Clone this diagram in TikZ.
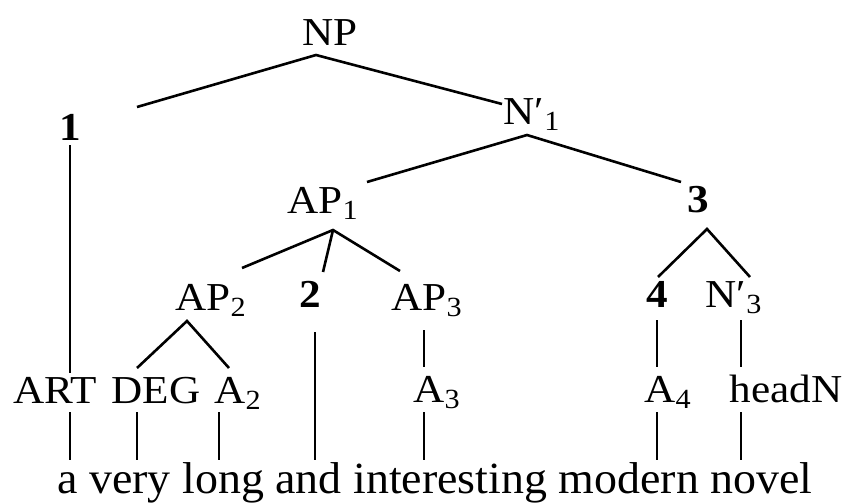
\documentclass[tikz,border=0pt]{standalone}
\usepackage{fontspec}
\setmainfont{Liberation Serif}[FakeStretch=1.03]
\newfontfamily\lblfont{Liberation Serif}[FakeStretch=1.09]

\begin{document}
\begin{tikzpicture}[x=0.5pt,y=-0.5pt,
	lbl/.style={inner sep=0pt,anchor=base,font=\lblfont\fontsize{19.8}{22}\selectfont},
	wd/.style={inner sep=0pt,anchor=base,font=\fontsize{22.3}{26}\selectfont},
	br/.style={line width=1.3pt}]
	\useasboundingbox (0,0) rectangle (849,503);
	% labels of the tree
	\node[lbl] (NP) at (330,45) {NP};
	\node[lbl] (one) at (70,140) {\textbf{1}};
	\node[lbl] (N1) at (532,124) {N′\textsubscript{1}};
	\node[lbl] (AP1) at (323,213) {AP\textsubscript{1}};
	\node[lbl] (three) at (698,212) {\textbf{3}};
	\node[lbl] (AP2) at (211,310) {AP\textsubscript{2}};
	\node[lbl] (two) at (310,307) {\textbf{2}};
	\node[lbl] (AP3) at (427,310) {AP\textsubscript{3}};
	\node[lbl] (four) at (657,307) {\textbf{4}};
	\node[lbl] (N3) at (734,307) {N′\textsubscript{3}};
	\node[lbl] (ART) at (55,403) {ART};
	\node[lbl] (DEG) at (156,403) {DEG};
	\node[lbl] (A2) at (238,403) {A\textsubscript{2}};
	\node[lbl] (A3) at (437,402) {A\textsubscript{3}};
	\node[lbl] (A4) at (668,402) {A\textsubscript{4}};
	\node[lbl] (headN) at (786,402) {headN};
	\node[wd] (sent) at (435,493) {a very long and interesting modern novel};
	% ends of the branches
	\coordinate (np-f) at (316,55);
	\coordinate (np-l) at (137,107);
	\coordinate (np-r) at (502,104);
	\coordinate (n1-f) at (527,135);
	\coordinate (n1-l) at (367,182);
	\coordinate (n1-r) at (681,182);
	\coordinate (ap1-f) at (333,230);
	\coordinate (ap1-l) at (242,268);
	\coordinate (ap1-m) at (323,272);
	\coordinate (ap1-r) at (400,271);
	\coordinate (three-f) at (707,229);
	\coordinate (three-l) at (658,277);
	\coordinate (three-r) at (750,277);
	\coordinate (ap2-f) at (187,321);
	\coordinate (ap2-l) at (137,368);
	\coordinate (ap2-r) at (229,368);
	\coordinate (one-f) at (70,145);
	\coordinate (one-b) at (70,373);
	\coordinate (two-f) at (315,332);
	\coordinate (two-b) at (315,460);
	\coordinate (ap3-f) at (424,330);
	\coordinate (ap3-b) at (424,367);
	\coordinate (four-f) at (657,320);
	\coordinate (four-b) at (657,367);
	\coordinate (n3-f) at (741,320);
	\coordinate (n3-b) at (741,367);
	% branches
	\draw[br] (np-l) -- (np-f) -- (np-r);
	\draw[br] (n1-l) -- (n1-f) -- (n1-r);
	\draw[br] (ap1-l) -- (ap1-f) -- (ap1-r);
	\draw[br] (ap1-f) -- (ap1-m);
	\draw[br] (three-l) -- (three-f) -- (three-r);
	\draw[br] (ap2-l) -- (ap2-f) -- (ap2-r);
	\draw[br] (one-f) -- (one-b);
	\draw[br] (two-f) -- (two-b);
	\draw[br] (ap3-f) -- (ap3-b);
	\draw[br] (four-f) -- (four-b);
	\draw[br] (n3-f) -- (n3-b);
	% down to the words
	\foreach \w/\x in {a/70,very/137,long/219,inter/424,modern/657,novel/741}{
		\coordinate (\w-t) at (\x,412);
		\coordinate (\w-b) at (\x,460);
		\draw[br] (\w-t) -- (\w-b);
	}
\end{tikzpicture}
\end{document}
